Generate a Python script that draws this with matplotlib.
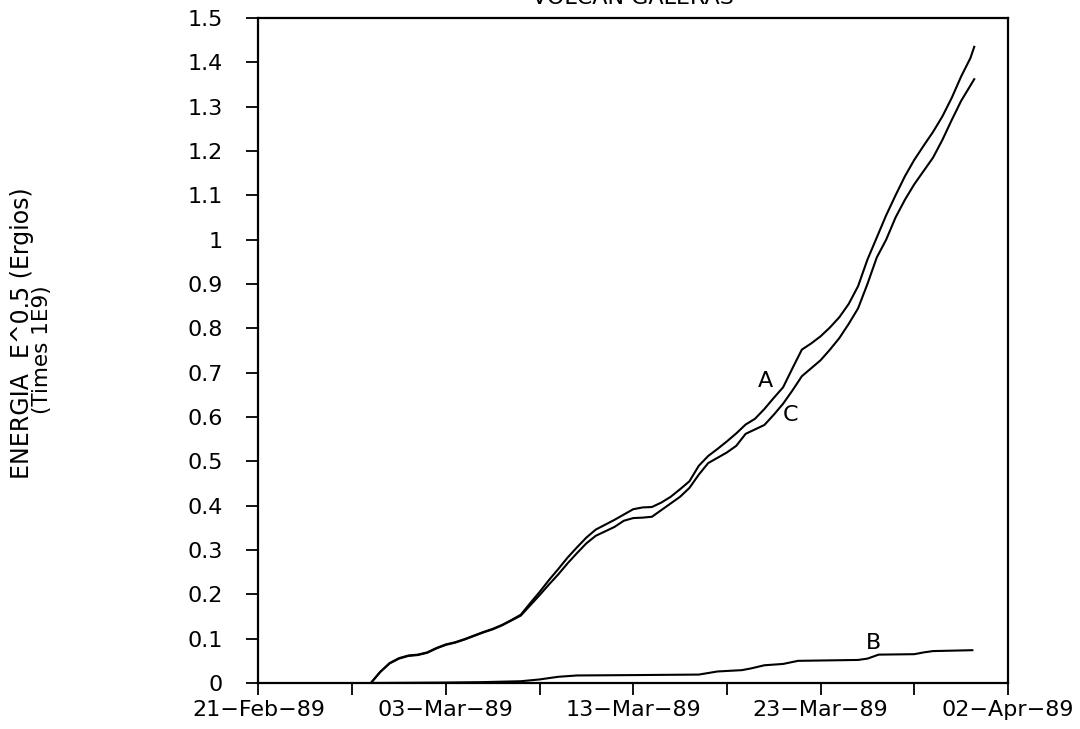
#!/usr/bin/python3
# Energia acumulada - Volcan Galeras, Feb-Apr 1989
import pandas as pd
from matplotlib import pyplot as plt

start = pd.Timestamp("1989-02-21")

# days since 21-Feb-89 and cumulative energy (E^0.5, x 1E9)
days_a = [6.0, 6.5, 7.0, 7.5, 8.0, 8.5, 9.0, 9.5, 10.0, 10.5, 11.0, 11.5,
          12.0, 12.5, 13.0, 13.5, 14.0, 14.5, 15.0, 15.5, 16.0, 16.5, 17.0,
          17.5, 18.0, 18.5, 19.0, 19.5, 20.0, 20.5, 21.0, 21.5, 22.0, 22.5,
          23.0, 23.5, 24.0, 24.5, 25.0, 25.5, 26.0, 26.5, 27.0, 27.5, 28.0,
          28.5, 29.0, 29.5, 30.0, 30.5, 31.0, 31.5, 32.0, 32.5, 33.0, 33.5,
          34.0, 34.5, 35.0, 35.5, 36.0, 36.5, 37.0, 37.5, 38.0, 38.2]
energia_a = [0.0, 0.025, 0.045, 0.056, 0.062, 0.064, 0.069, 0.079, 0.087,
             0.092, 0.099, 0.107, 0.115, 0.122, 0.131, 0.142, 0.154, 0.18,
             0.205, 0.232, 0.257, 0.283, 0.306, 0.328, 0.346, 0.357, 0.368,
             0.38, 0.392, 0.396, 0.397, 0.407, 0.42, 0.437, 0.455, 0.49,
             0.512, 0.528, 0.545, 0.563, 0.583, 0.596, 0.618, 0.643, 0.667,
             0.71, 0.752, 0.766, 0.782, 0.802, 0.825, 0.855, 0.895, 0.955,
             1.005, 1.055, 1.1, 1.143, 1.18, 1.212, 1.243, 1.278, 1.32,
             1.368, 1.41, 1.435]

days_c = [6.0, 6.5, 7.0, 7.5, 8.0, 8.5, 9.0, 9.5, 10.0, 10.5, 11.0, 11.5,
          12.0, 12.5, 13.0, 13.5, 14.0, 14.5, 15.0, 15.5, 16.0, 16.5, 17.0,
          17.5, 18.0, 18.5, 19.0, 19.5, 20.0, 20.5, 21.0, 21.5, 22.0, 22.5,
          23.0, 23.5, 24.0, 24.5, 25.0, 25.5, 26.0, 26.5, 27.0, 27.5, 28.0,
          28.5, 29.0, 29.5, 30.0, 30.5, 31.0, 31.5, 32.0, 32.5, 33.0, 33.5,
          34.0, 34.5, 35.0, 35.5, 36.0, 36.5, 37.0, 37.5, 38.2]
energia_c = [0.0, 0.025, 0.044, 0.055, 0.061, 0.063, 0.068, 0.078, 0.086,
             0.091, 0.098, 0.106, 0.114, 0.121, 0.13, 0.141, 0.152, 0.175,
             0.198, 0.222, 0.245, 0.27, 0.293, 0.315, 0.332, 0.342, 0.352,
             0.366, 0.372, 0.373, 0.375, 0.39, 0.405, 0.42, 0.44, 0.47,
             0.496, 0.508, 0.52, 0.535, 0.562, 0.572, 0.582, 0.605, 0.63,
             0.66, 0.692, 0.71, 0.728, 0.752, 0.778, 0.81, 0.845, 0.9, 0.96,
             1.0, 1.05, 1.09, 1.125, 1.155, 1.185, 1.225, 1.27, 1.313, 1.362]

days_b = [6.0, 10.0, 12.0, 14.0, 15.0, 16.0, 17.0, 20.5, 23.5, 24.5, 25.8,
          26.3, 27.0, 28.0, 28.8, 32.0, 32.5, 33.1, 35.0, 35.5, 36.0, 38.1]
energia_b = [0.0, 0.001, 0.002, 0.004, 0.008, 0.014, 0.017, 0.018, 0.019,
             0.026, 0.029, 0.033, 0.04, 0.043, 0.05, 0.052, 0.055, 0.064,
             0.065, 0.069, 0.072, 0.074]

tick_days = [0, 10, 20, 30, 40]
minor_days = [5, 15, 25, 35]
tick_labels = ["21\u2212Feb\u221289", "03\u2212Mar\u221289", "13\u2212Mar\u221289",
               "23\u2212Mar\u221289", "02\u2212Apr\u221289"]
y_ticks = [0, 0.1, 0.2, 0.3, 0.4, 0.5, 0.6, 0.7, 0.8, 0.9, 1.0, 1.1, 1.2,
           1.3, 1.4, 1.5]


def to_dates(days):
    return start + pd.to_timedelta(days, unit="D")


def main():
    plt.rcParams['font.family'] = ['DejaVu Sans']

    fig = plt.figure(figsize=(10.8, 7.29), dpi=100)
    ax = fig.add_axes([0.2393, 0.0631, 0.6940, 0.9122])

    ax.plot(to_dates(days_a), energia_a, color='black', lw=1.5)
    ax.plot(to_dates(days_c), energia_c, color='black', lw=1.5)
    ax.plot(to_dates(days_b), energia_b, color='black', lw=1.5)

    # curve labels
    ax.text(to_dates([27.06])[0], 0.682, "A", fontsize=16, ha='center', va='center')
    ax.text(to_dates([28.4])[0], 0.605, "C", fontsize=16, ha='center', va='center')
    ax.text(to_dates([32.8])[0], 0.0905, "B", fontsize=16, ha='center', va='center')

    ax.set_xlim(start, to_dates([40])[0])
    ax.set_ylim(0, 1.5)

    ax.set_xticks(to_dates(tick_days))
    ax.set_xticklabels(tick_labels, fontsize=16)
    ax.set_xticks(to_dates(minor_days), minor=True)
    ax.set_yticks(y_ticks)
    ax.set_yticklabels(["%g" % v for v in y_ticks], fontsize=16)

    ax.tick_params(axis='both', which='both', direction='out', length=8.5,
                   width=1.3, color='black')
    ax.tick_params(axis='x', which='major', pad=4)
    ax.tick_params(axis='y', which='major', pad=17)
    for s in ax.spines.values():
        s.set_linewidth(1.6)

    # y axis label (two lines)
    fig.text(0.0204, 0.543, "ENERGIA  E^0.5 (Ergios)", rotation=90,
             fontsize=17, ha='center', va='center')
    fig.text(0.039, 0.52, "(Times 1E9)", rotation=90,
             fontsize=15.5, ha='center', va='center')

    # title, mostly cut off at the top edge
    fig.text(0.586, 1 - 4 / 729, "VOLCAN GALERAS", fontsize=16,
             ha='center', va='baseline')

    fig.savefig("out.png", dpi=100)


if __name__ == '__main__':
    main()
